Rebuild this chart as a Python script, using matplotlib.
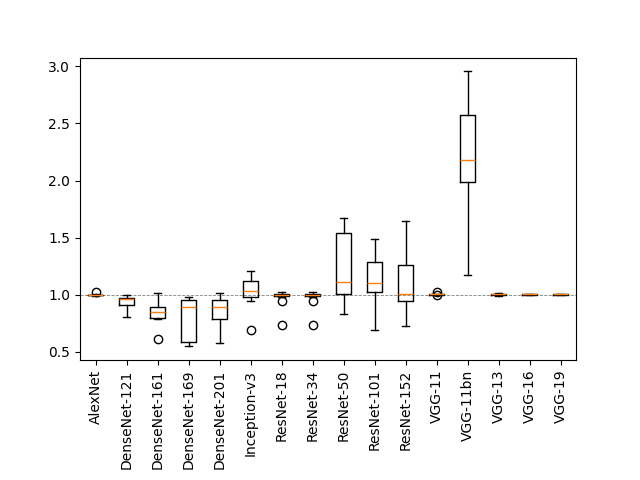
import matplotlib
matplotlib.use('Agg')
import matplotlib.pyplot as plt

# model names and box stats
models = ['AlexNet', 'DenseNet-121', 'DenseNet-161', 'DenseNet-169', 'DenseNet-201',
          'Inception-v3', 'ResNet-18', 'ResNet-34', 'ResNet-50', 'ResNet-101',
          'ResNet-152', 'VGG-11', 'VGG-11bn', 'VGG-13', 'VGG-16', 'VGG-19']
whislo = [0.99, 0.81, 0.79, 0.55, 0.58, 0.945, 0.985, 0.985, 0.83, 0.69, 0.73, 1.0, 1.17, 0.99, 1.0, 1.0]
q1 = [0.995, 0.91, 0.80, 0.587, 0.785, 0.983, 0.99, 0.99, 1.006, 1.023, 0.945, 1.0, 1.984, 0.997, 1.0, 1.0]
med = [1.0, 0.96, 0.849, 0.892, 0.892, 1.032, 0.998, 0.998, 1.111, 1.102, 1.003, 1.005, 2.179, 1.005, 1.005, 1.005]
q3 = [1.0, 0.97, 0.892, 0.953, 0.953, 1.12, 1.006, 1.006, 1.539, 1.285, 1.259, 1.01, 2.578, 1.01, 1.01, 1.01]
whishi = [1.005, 1.0, 1.015, 0.983, 1.015, 1.207, 1.023, 1.023, 1.672, 1.486, 1.646, 1.01, 2.956, 1.015, 1.01, 1.01]
fliers = [[1.023], [], [0.613], [], [], [0.694], [0.948, 0.735], [0.948, 0.735],
          [], [], [], [1.025, 0.995], [], [], [], []]

stats = []
for i in range(len(models)):
    stats.append({'label': models[i], 'whislo': whislo[i], 'q1': q1[i], 'med': med[i],
                  'q3': q3[i], 'whishi': whishi[i], 'fliers': fliers[i]})

fig, ax = plt.subplots(figsize=(6.4, 4.8), dpi=100)
ax.bxp(stats)
ax.axhline(1.0, color='gray', linestyle='--', linewidth=0.6, zorder=0)
plt.setp(ax.get_xticklabels(), rotation=90)
fig.subplots_adjust(bottom=0.25)
fig.savefig('out.png')
